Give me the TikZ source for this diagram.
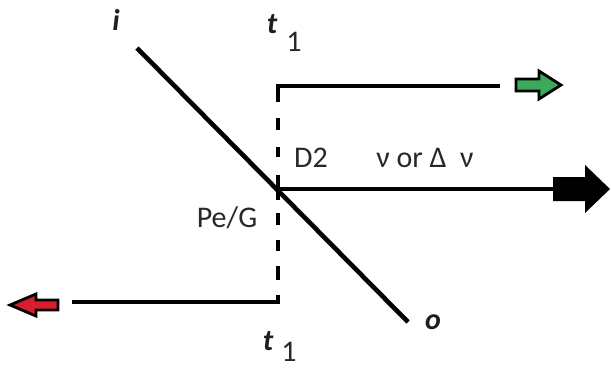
\documentclass[tikz,border=0pt]{standalone}
\usepackage{fontspec}
\setmainfont{Carlito}
\begin{document}
\begin{tikzpicture}[x=1pt,y=-1pt,
  thickline/.style={line width=4.6pt,line cap=butt},
  lbl/.style={inner sep=0pt,text={rgb,255:red,40;green,40;blue,40},font=\fontsize{30}{34}\selectfont},
  ital/.style={inner sep=0pt,text={rgb,255:red,30;green,30;blue,30},font=\fontsize{30}{34}\selectfont\bfseries\itshape},
  blockarrow/.style={line width=2.8pt,line join=miter}]
\useasboundingbox (0,0) rectangle (611,368);
% key points
\coordinate (TC) at (278,86);
\coordinate (BC) at (278,302);
\coordinate (X) at (278,189);
\coordinate (Dstart) at (137,48);
\coordinate (Dend) at (408,322);
\coordinate (TopEnd) at (500,86);
\coordinate (BotEnd) at (72,302);
\coordinate (MidEnd) at (554,189);
% diagonal
\draw[thickline] (Dstart) -- (Dend);
% top bracket
\draw[thickline,line join=miter] (278,102) -- (TC) -- (TopEnd);
% bottom bracket
\draw[thickline,line join=miter] (278,295) -- (BC) -- (BotEnd);
% dashes on the vertical
\draw[thickline] (278,118) -- (278,130) (278,147) -- (278,157)
  (278,213) -- (278,225) (278,240) -- (278,251) (278,266) -- (278,280);
% middle T
\draw[thickline] (278,175) -- (278,200);
\draw[thickline] (X) -- (MidEnd);
% black block arrow
\fill[black] (553,177) -- (585,177) -- (585,165) -- (610,189) -- (585,213) -- (585,201) -- (553,201) -- cycle;
% green block arrow
\filldraw[blockarrow,fill={rgb,255:red,60;green,170;blue,90}] (516,79) -- (539,79) -- (539,71) -- (561,85) -- (539,99) -- (539,91) -- (516,91) -- cycle;
% red block arrow
\filldraw[blockarrow,fill={rgb,255:red,215;green,30;blue,45}] (58,300) -- (36,300) -- (36,294) -- (10,305) -- (36,316) -- (36,310) -- (58,310) -- cycle;
% labels
\node[ital] (li) at (116,20) {i};
\node[ital] (ttop) at (272,24) {t};
\node[lbl] (onetop) at (294,42) {1};
\node[ital] (tbot) at (268,341) {t};
\node[lbl] (onebot) at (289,352) {1};
\node[ital] (lo) at (433,322) {o};
\node[lbl] (d2) at (311,158) {D2};
\node[lbl] (nu) at (425,158) {ν or Δ\ \ ν};
\node[lbl] (peg) at (227,218) {Pe/G};
\end{tikzpicture}
\end{document}
